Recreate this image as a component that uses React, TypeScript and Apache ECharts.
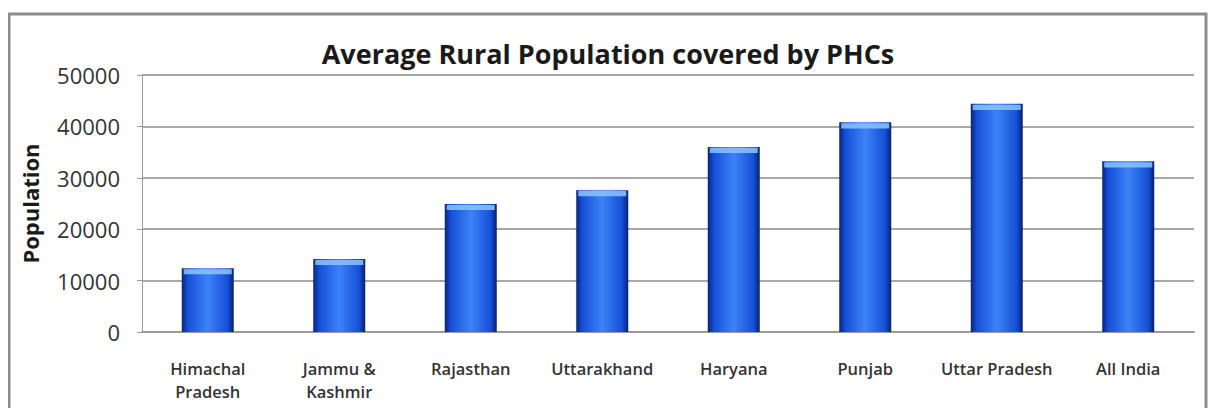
import React, { useEffect, useRef } from "react";
import * as echarts from "echarts";

const categories = [
  "Himachal\nPradesh",
  "Jammu &\nKashmir",
  "Rajasthan",
  "Uttarakhand",
  "Haryana",
  "Punjab",
  "Uttar Pradesh",
  "All India",
];
const population = [12400, 14200, 24900, 27600, 36000, 40800, 44400, 33200];
const yTicks = { min: 0, max: 50000, interval: 10000 };
const titleText = "Average Rural Population covered by PHCs";
const yName = "Population";

export default function App() {
  const ref = useRef<HTMLDivElement>(null);
  useEffect(() => {
    if (!ref.current) return;
    const chart = echarts.init(ref.current, undefined, { renderer: "svg" });
    const barGrad = new echarts.graphic.LinearGradient(0, 0, 1, 0, [
      { offset: 0, color: "#0a2478" },
      { offset: 0.12, color: "#1650d8" },
      { offset: 0.5, color: "#3d82f8" },
      { offset: 0.88, color: "#1650d8" },
      { offset: 1, color: "#081f6e" },
    ]);
    chart.setOption({
      animation: false,
      backgroundColor: "#fff",
      title: {
        text: titleText,
        left: "center",
        top: 27,
        textStyle: {
          fontFamily: "Open Sans",
          fontWeight: "bold",
          fontSize: 27,
          color: "#1a1a1a",
        },
      },
      graphic: [
        {
          type: "rect",
          shape: { x: 1, y: 6, width: 1197, height: 500 },
          style: { fill: "none", stroke: "#8c8c8c", lineWidth: 3 },
          silent: true,
        },
      ],
      grid: { left: 134, right: 14, top: 67, bottom: 76 },
      xAxis: {
        type: "category",
        data: categories,
        axisLine: { lineStyle: { color: "#9a9a9a", width: 2 } },
        axisTick: { show: false },
        axisLabel: {
          interval: 0,
          margin: 25,
          fontFamily: "Open Sans",
          fontWeight: 600,
          fontSize: 16.5,
          lineHeight: 23,
          color: "#333",
        },
      },
      yAxis: {
        type: "value",
        min: yTicks.min,
        max: yTicks.max,
        interval: yTicks.interval,
        name: yName,
        nameLocation: "middle",
        nameGap: 101,
        nameTextStyle: {
          fontFamily: "Open Sans",
          fontWeight: "bold",
          fontSize: 22,
          color: "#1a1a1a",
        },
        axisLine: { show: true, lineStyle: { color: "#9a9a9a" } },
        axisTick: { show: true, length: 5, lineStyle: { color: "#9a9a9a" } },
        axisLabel: {
          margin: 22,
          fontFamily: "Open Sans",
          fontSize: 22,
          color: "#333",
          formatter: (v: number) => String(v),
        },
        splitLine: { lineStyle: { color: "#a8a8a8", width: 2 } },
      },
      series: [
        {
          type: "bar",
          data: population,
          barWidth: 52,
          itemStyle: { color: barGrad },
        },
        {
          type: "pictorialBar",
          data: population,
          symbol: "rect",
          symbolPosition: "end",
          symbolSize: [48, 5],
          symbolOffset: [0, 1],
          z: 5,
          itemStyle: { color: "#8cc4ff", opacity: 0.85 },
        },
      ],
    });
    return () => chart.dispose();
  }, []);
  return <div ref={ref} style={{ width: 1200, height: 400 }} />;
}
